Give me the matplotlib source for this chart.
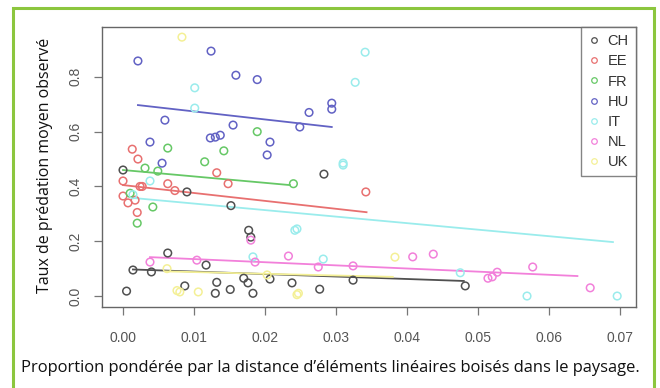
import matplotlib
matplotlib.use("Agg")
import matplotlib.pyplot as plt
from matplotlib.patches import Rectangle
from matplotlib.lines import Line2D

plt.rcParams["font.family"] = ["Liberation Sans", "DejaVu Sans"]

countries = ["CH", "EE", "FR", "HU", "IT", "NL", "UK"]
colors = ["#505050", "#e87070", "#66c866", "#6262c4", "#9aecec", "#f280da", "#f4f096"]

# scatter points per country
ch_x = [0.000, 0.009, 0.0152, 0.0177, 0.018, 0.0063, 0.0117, 0.0014, 0.004, 0.0005, 0.0087,
        0.0132, 0.013, 0.0151, 0.017, 0.0176, 0.0183, 0.0207, 0.0283, 0.0277, 0.0324, 0.0482, 0.0238]
ch_y = [0.46, 0.38, 0.33, 0.24, 0.215, 0.157, 0.113, 0.095, 0.088, 0.018, 0.037,
        0.05, 0.01, 0.024, 0.065, 0.048, 0.01, 0.062, 0.445, 0.025, 0.058, 0.037, 0.048]

ee_x = [0.0013, 0.0021, 0.0132, 0.0148, 0.0, 0.0027, 0.0063, 0.0073, 0.0, 0.0007, 0.0017,
        0.002, 0.0342, 0.0024]
ee_y = [0.536, 0.50, 0.45, 0.41, 0.42, 0.40, 0.41, 0.385, 0.365, 0.34, 0.35,
        0.305, 0.38, 0.40]

fr_x = [0.0063, 0.0189, 0.0142, 0.0115, 0.0031, 0.0049, 0.024, 0.0042, 0.002, 0.001]
fr_y = [0.54, 0.60, 0.53, 0.49, 0.467, 0.456, 0.41, 0.325, 0.266, 0.375]

hu_x = [0.0021, 0.0124, 0.0159, 0.0189, 0.0059, 0.0155, 0.0038, 0.0123, 0.013, 0.0137,
        0.0207, 0.0203, 0.0055, 0.0249, 0.0262, 0.0294, 0.0294]
hu_y = [0.858, 0.894, 0.806, 0.79, 0.642, 0.624, 0.562, 0.577, 0.58, 0.587,
        0.562, 0.515, 0.485, 0.617, 0.67, 0.704, 0.682]

it_x = [0.0341, 0.0327, 0.031, 0.0101, 0.0101, 0.031, 0.0245, 0.0282, 0.0014, 0.0038,
        0.0183, 0.0569, 0.0696, 0.0475, 0.0242]
it_y = [0.89, 0.78, 0.485, 0.76, 0.686, 0.478, 0.245, 0.135, 0.37, 0.42,
        0.143, 0.0, 0.0, 0.085, 0.24]

nl_x = [0.0038, 0.0104, 0.0186, 0.018, 0.0233, 0.0275, 0.0324, 0.0408, 0.0437,
        0.0527, 0.0514, 0.052, 0.0577, 0.0658]
nl_y = [0.124, 0.131, 0.124, 0.204, 0.146, 0.106, 0.11, 0.143, 0.153,
        0.087, 0.065, 0.07, 0.106, 0.03]

uk_x = [0.008, 0.0106, 0.0062, 0.0203, 0.0076, 0.0245, 0.0247, 0.0383, 0.0083]
uk_y = [0.015, 0.015, 0.10, 0.077, 0.02, 0.005, 0.01, 0.142, 0.945]

points = [(ch_x, ch_y), (ee_x, ee_y), (fr_x, fr_y), (hu_x, hu_y),
          (it_x, it_y), (nl_x, nl_y), (uk_x, uk_y)]

# fitted lines: start x, end x, start y, end y
line_x0 = [0.0014, 0.0, 0.0, 0.0021, 0.0014, 0.0038, 0.006]
line_x1 = [0.048, 0.0343, 0.0235, 0.0294, 0.069, 0.064, 0.038]
line_y0 = [0.097, 0.405, 0.46, 0.697, 0.358, 0.142, 0.09]
line_y1 = [0.055, 0.306, 0.405, 0.617, 0.197, 0.073, 0.07]

xticks = [0.00, 0.01, 0.02, 0.03, 0.04, 0.05, 0.06, 0.07]
xtick_labels = ["0.00", "0.01", "0.02", "0.03", "0.04", "0.05", "0.06", "0.07"]
yticks = [0.0, 0.2, 0.4, 0.6, 0.8]
ytick_labels = ["0.0", "0.2", "0.4", "0.6", "0.8"]

ylabel = "Taux de prédation moyen observé"
caption = "Proportion pondérée par la distance d\u2019éléments linéaires boisés dans le paysage."

fig = plt.figure(figsize=(6.6, 3.88), dpi=100)
W, H = 660, 388

ax = fig.add_axes([102 / W, 1 - 307 / H, (636 - 102) / W, (307 - 27) / H])
for (px, py), c, x0, x1, y0, y1 in zip(points, colors, line_x0, line_x1, line_y0, line_y1):
    ax.plot([x0, x1], [y0, y1], color=c, lw=1.3, zorder=2)
    ax.scatter(px, py, s=30, facecolors="none", edgecolors=c, linewidths=1.1, zorder=3)

ax.set_xlim(-0.00296, 0.07225)
ax.set_ylim(-0.040, 0.982)
ax.set_xticks(xticks)
ax.set_xticklabels(xtick_labels)
ax.set_yticks(yticks)
ax.set_yticklabels(ytick_labels, rotation=90, va="center")
ax.tick_params(axis="both", direction="out", length=6, width=0.9, color="#777777",
               labelcolor="#555555", labelsize=10, pad=8)
ax.tick_params(axis="x", pad=11)
for sp in ax.spines.values():
    sp.set_color("#666666")
    sp.set_linewidth(1.0)

handles = [Line2D([], [], marker="o", ls="none", markerfacecolor="none",
                  markeredgecolor=c, markersize=4, markeredgewidth=0.9) for c in colors]
leg = ax.legend(handles, countries, loc="upper right", frameon=True, fancybox=False,
                edgecolor="#666666", borderaxespad=0, handlelength=0.8, handletextpad=0.5,
                labelspacing=0.42, borderpad=0.5, prop={"family": "Liberation Sans", "size": 10.5})
leg.get_frame().set_linewidth(1.0)
for t in leg.get_texts():
    t.set_color("#333333")

fig.text(45 / W, 1 - 165 / H, ylabel, rotation=90, ha="center", va="center",
         fontsize=11.5, family="Open Sans", color="#111111")
fig.text(330 / W, 1 - 368 / H, caption, ha="center", va="center",
         fontsize=11.9, family="Open Sans", color="#111111")

# green frame
fig.patches.append(Rectangle((13 / W, -0.05), (654 - 13) / W, 1 - 8 / H + 0.05,
                             transform=fig.transFigure, fill=False, edgecolor="#8cc63e",
                             linewidth=2.2, zorder=10))

fig.savefig("out.png", dpi=100)
